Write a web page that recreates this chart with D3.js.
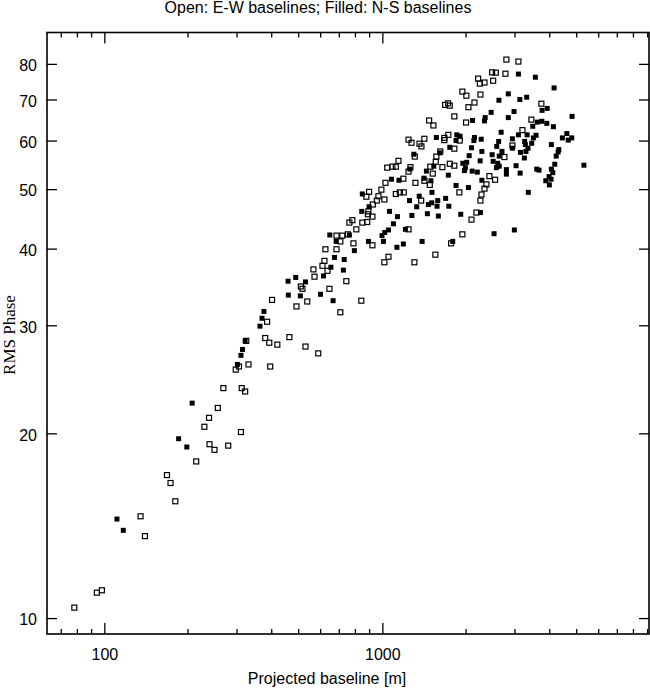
<!DOCTYPE html>
<html>
<head>
<meta charset="utf-8">
<script src="https://cdn.jsdelivr.net/npm/d3@7"></script>
<style>
  body { margin: 0; background: #fff; }
  text { font-family: "Liberation Sans", Arial, sans-serif; fill: #000; }
</style>
</head>
<body>
<div id="chart"></div>
<script>
// E-W baselines (open squares): [projected baseline (m), rms phase]
var ewPoints = [
  [78,10.4],[94,11.0],[98,11.1],[135,14.65],[140,13.6],[180,15.5],[173,16.6],[168,17.1],[214,18.0],
  [239,19.2],[249,18.8],[279,19.1],[310,20.1],[229,20.5],[238,21.2],[256,22.0],[268,23.7],[312,23.7],
  [321,23.4],[297,25.4],[305,25.7],[330,25.9],[395,25.7],[324,28.3],[379,28.6],[392,28.1],[419,27.9],
  [588,27.0],[463,28.7],[529,27.7],[385,30.4],[401,33.0],
  [706,41.1],[787,40.8],[921,40.5],[624,39.9],[684,39.9],[619,38.2],[609,37.5],[635,36.8],[565,37.0],
  [570,36.0],[742,35.4],[645,34.4],[509,34.7],[516,34.4],[537,32.8],[491,32.2],[840,32.9],[706,31.5],
  [1052,38.8],[1017,38.0],[1304,38.0],[1551,39.1],[1767,40.8],
  [1473,64.7],[1242,60.2],[1273,59.5],[1416,60.4],[1360,59.3],[1382,58.7],[1308,56.5],[1143,55.6],
  [1041,54.2],[1087,54.4],[1118,54.4],[1262,54.3],[1242,53.4],[1190,52.0],[1026,51.2],[992,49.9],
  [1315,51.2],[1417,51.6],[1481,50.8],[1118,49.1],[1156,49.4],[1194,49.4],[896,49.5],[876,48.6],
  [968,48.7],[955,47.9],[1017,48.1],[1379,47.9],[924,47.2],[891,46.0],[887,45.5],[921,45.1],[780,44.5],
  [761,44.1],[847,44.1],[882,44.2],[806,43.0],[684,42.0],[718,42.0],[751,42.2],[1242,43.0],[1488,54.4],
  [2793,81.3],[3086,80.7],[2482,77.5],[2559,77.4],[2771,77.1],[2210,75.7],[2242,74.3],[2330,74.6],
  [2503,75.1],[1940,72.1],[2005,71.0],[2253,71.3],[2144,69.2],[2040,68.0],[1681,68.6],[1723,69.0],
  [1748,68.4],[1815,65.7],[2000,64.2],[1526,63.5],[3732,68.9],[3435,64.9],[3190,62.4],[1727,61.3],
  [1671,60.6],[1671,60.1],[1898,60.0],[1815,58.2],[1616,57.6],[1564,56.5],[1556,55.4],[1748,55.0],
  [1815,54.6],[1644,54.3],[2936,58.9],[2748,56.4],[1518,53.0],[2427,52.5],[2544,51.8],[2368,50.9],
  [2330,50.1],[2272,49.0],[2253,47.9],[1892,49.4],[2179,45.8],[2092,44.6],[1940,42.2]
];

// N-S baselines (filled squares)
var nsPoints = [
  [111,14.5],[117,13.9],[207,22.4],[185,19.6],[198,19.0],[321,28.3],[314,27.4],[310,26.8],[301,25.9],
  [375,31.6],[369,30.8],[363,29.9],
  [682,41.1],[891,41.1],[1009,41.1],[1190,40.7],[1128,40.2],[1390,41.1],[1791,41.1],[793,39.7],
  [673,38.7],[729,38.4],[653,37.3],[724,36.9],[614,36.1],[488,35.9],[458,35.4],[529,35.3],[459,33.6],
  [507,33.5],[599,33.7],[665,32.9],
  [1298,57.0],[1440,53.5],[1256,53.9],[1078,51.9],[1147,51.7],[1412,52.1],[1357,48.7],[1252,47.9],
  [1464,47.2],[1329,46.8],[847,49.1],[896,46.8],[843,46.0],[1061,46.0],[1133,45.1],[1277,45.3],
  [1452,45.6],[1096,43.9],[1052,42.9],[1020,42.5],[997,42.0],[1210,43.0],[647,42.1],[761,42.1],
  [3086,77.0],[3551,76.1],[4146,73.1],[2838,71.5],[2626,69.8],[3122,70.0],[3304,70.6],[3917,67.7],
  [3754,67.2],[4812,65.7],[2462,66.7],[2976,66.9],[2343,65.4],[2330,64.6],[2838,65.4],[2110,64.7],
  [3609,64.3],[3745,64.5],[3903,64.0],[4122,63.2],[3475,63.3],[2674,61.9],[3086,61.3],[3316,61.3],
  [3571,61.2],[3494,60.6],[4608,61.6],[4442,60.6],[4800,60.6],[4661,60.1],[1564,60.7],[1852,61.3],
  [1903,61.0],[1841,60.0],[2144,60.7],[2267,60.3],[2134,60.0],[2620,59.8],[2936,60.4],[3250,59.8],
  [3268,59.1],[3446,59.4],[3340,58.3],[4054,59.1],[4312,58.0],[1748,58.5],[2092,58.4],[2579,58.7],
  [2280,57.6],[2693,57.6],[2936,58.3],[3284,57.6],[3138,57.4],[1612,57.3],[2482,56.9],[2632,56.6],
  [2052,56.7],[4288,57.5],[4220,56.6],[3242,56.2],[2248,55.6],[2011,55.3],[1947,55.1],[2503,55.5],
  [2600,55.1],[3026,54.6],[1531,54.5],[1989,54.2],[1973,53.6],[2104,53.5],[2195,53.3],[2571,54.2],
  [2632,54.5],[2793,53.8],[2793,52.9],[3130,53.1],[3591,53.9],[3661,53.7],[4054,53.9],[4102,53.2],
  [4170,54.9],[5309,54.7],[3977,52.4],[4044,51.9],[3871,51.6],[3987,50.8],[1727,52.7],[2280,51.7],
  [1841,50.7],[2040,50.3],[1496,51.6],[1508,49.4],[3350,49.4],[1689,48.3],[1582,47.9],[1505,47.5],
  [1573,46.9],[1734,46.9],[1590,45.2],[1914,45.5],[2253,45.8],[2522,42.3],[2984,42.9]
];

var xMajor = [100, 1000];
var xMinor = [70, 80, 90, 200, 300, 400, 500, 600, 700, 800, 900,
              2000, 3000, 4000, 5000, 6000, 7000, 8000, 9000];
var yTicks = [10, 20, 30, 40, 50, 60, 70, 80];

var svgWidth = 650;
var svgHeight = 689;
var plotLeft = 47, plotRight = 649, plotTop = 32.5, plotBottom = 634;

var svg = d3.select("#chart")
  .append("svg")
  .attr("width", svgWidth)
  .attr("height", svgHeight);

var x = d3.scaleLog().domain([62.2, 9100]).range([plotLeft, plotRight]);
var y = d3.scaleLog().domain([9.42, 90]).range([plotBottom, plotTop]);

// title
svg.append("text")
  .attr("x", 318)
  .attr("y", 13)
  .attr("text-anchor", "middle")
  .style("font-size", "16px")
  .text("Open: E-W baselines; Filled: N-S baselines");

// axes (ticks point inward)
var bottomAxis = d3.axisBottom(x).tickValues(xMajor).tickFormat(d3.format("d"))
  .tickSizeInner(-11).tickSizeOuter(0).tickPadding(14.6);
var topAxis = d3.axisTop(x).tickValues(xMajor).tickFormat("")
  .tickSizeInner(-11).tickSizeOuter(0);
var leftAxis = d3.axisLeft(y).tickValues(yTicks).tickFormat(d3.format("d"))
  .tickSizeInner(-10).tickSizeOuter(0).tickPadding(10);
var rightAxis = d3.axisRight(y).tickValues(yTicks).tickFormat("")
  .tickSizeInner(-10).tickSizeOuter(0);

function styleAxis(g) {
  g.select(".domain").remove();
  g.selectAll("line").attr("stroke", "#000").attr("stroke-width", 1.3);
  g.selectAll("text").style("font-size", "16px").attr("font-family", null).attr("fill", "#000");
}

svg.append("g").attr("transform", `translate(0, ${plotBottom})`).call(bottomAxis).call(styleAxis);
svg.append("g").attr("transform", `translate(0, ${plotTop})`).call(topAxis).call(styleAxis);
svg.append("g").attr("transform", `translate(${plotLeft}, 0)`).call(leftAxis).call(styleAxis)
  .selectAll("text").attr("dy", "0.42em");
svg.append("g").attr("transform", `translate(${plotRight}, 0)`).call(rightAxis).call(styleAxis);

// minor x ticks, bottom and top
var minor = svg.append("g").attr("stroke", "#000").attr("stroke-width", 1.3);
minor.selectAll(".mb").data(xMinor).enter().append("line")
  .attr("x1", d => x(d)).attr("x2", d => x(d))
  .attr("y1", plotBottom).attr("y2", plotBottom - 5);
minor.selectAll(".mt").data(xMinor).enter().append("line")
  .attr("x1", d => x(d)).attr("x2", d => x(d))
  .attr("y1", plotTop).attr("y2", plotTop + 5);

// frame
svg.append("rect")
  .attr("x", plotLeft).attr("y", plotTop)
  .attr("width", plotRight - plotLeft).attr("height", plotBottom - plotTop)
  .attr("fill", "none").attr("stroke", "#000").attr("stroke-width", 1.6);

// points
var s = 5;
svg.append("g").selectAll("rect")
  .data(nsPoints).enter().append("rect")
  .attr("x", d => x(d[0]) - s / 2)
  .attr("y", d => y(d[1]) - s / 2)
  .attr("width", s).attr("height", s)
  .attr("fill", "#000");

var so = 5;
svg.append("g").selectAll("rect")
  .data(ewPoints).enter().append("rect")
  .attr("x", d => x(d[0]) - so / 2)
  .attr("y", d => y(d[1]) - so / 2)
  .attr("width", so).attr("height", so)
  .attr("fill", "none").attr("stroke", "#000").attr("stroke-width", 1.2);

// axis labels
svg.append("text")
  .attr("x", 327)
  .attr("y", 684)
  .attr("text-anchor", "middle")
  .style("font-size", "16px")
  .text("Projected baseline [m]");

svg.append("text")
  .attr("transform", "translate(15, 335) rotate(-90)")
  .attr("text-anchor", "middle")
  .style("font-family", "'Liberation Serif', 'Times New Roman', serif")
  .style("font-size", "17px")
  .text("RMS Phase");
</script>
</body>
</html>
